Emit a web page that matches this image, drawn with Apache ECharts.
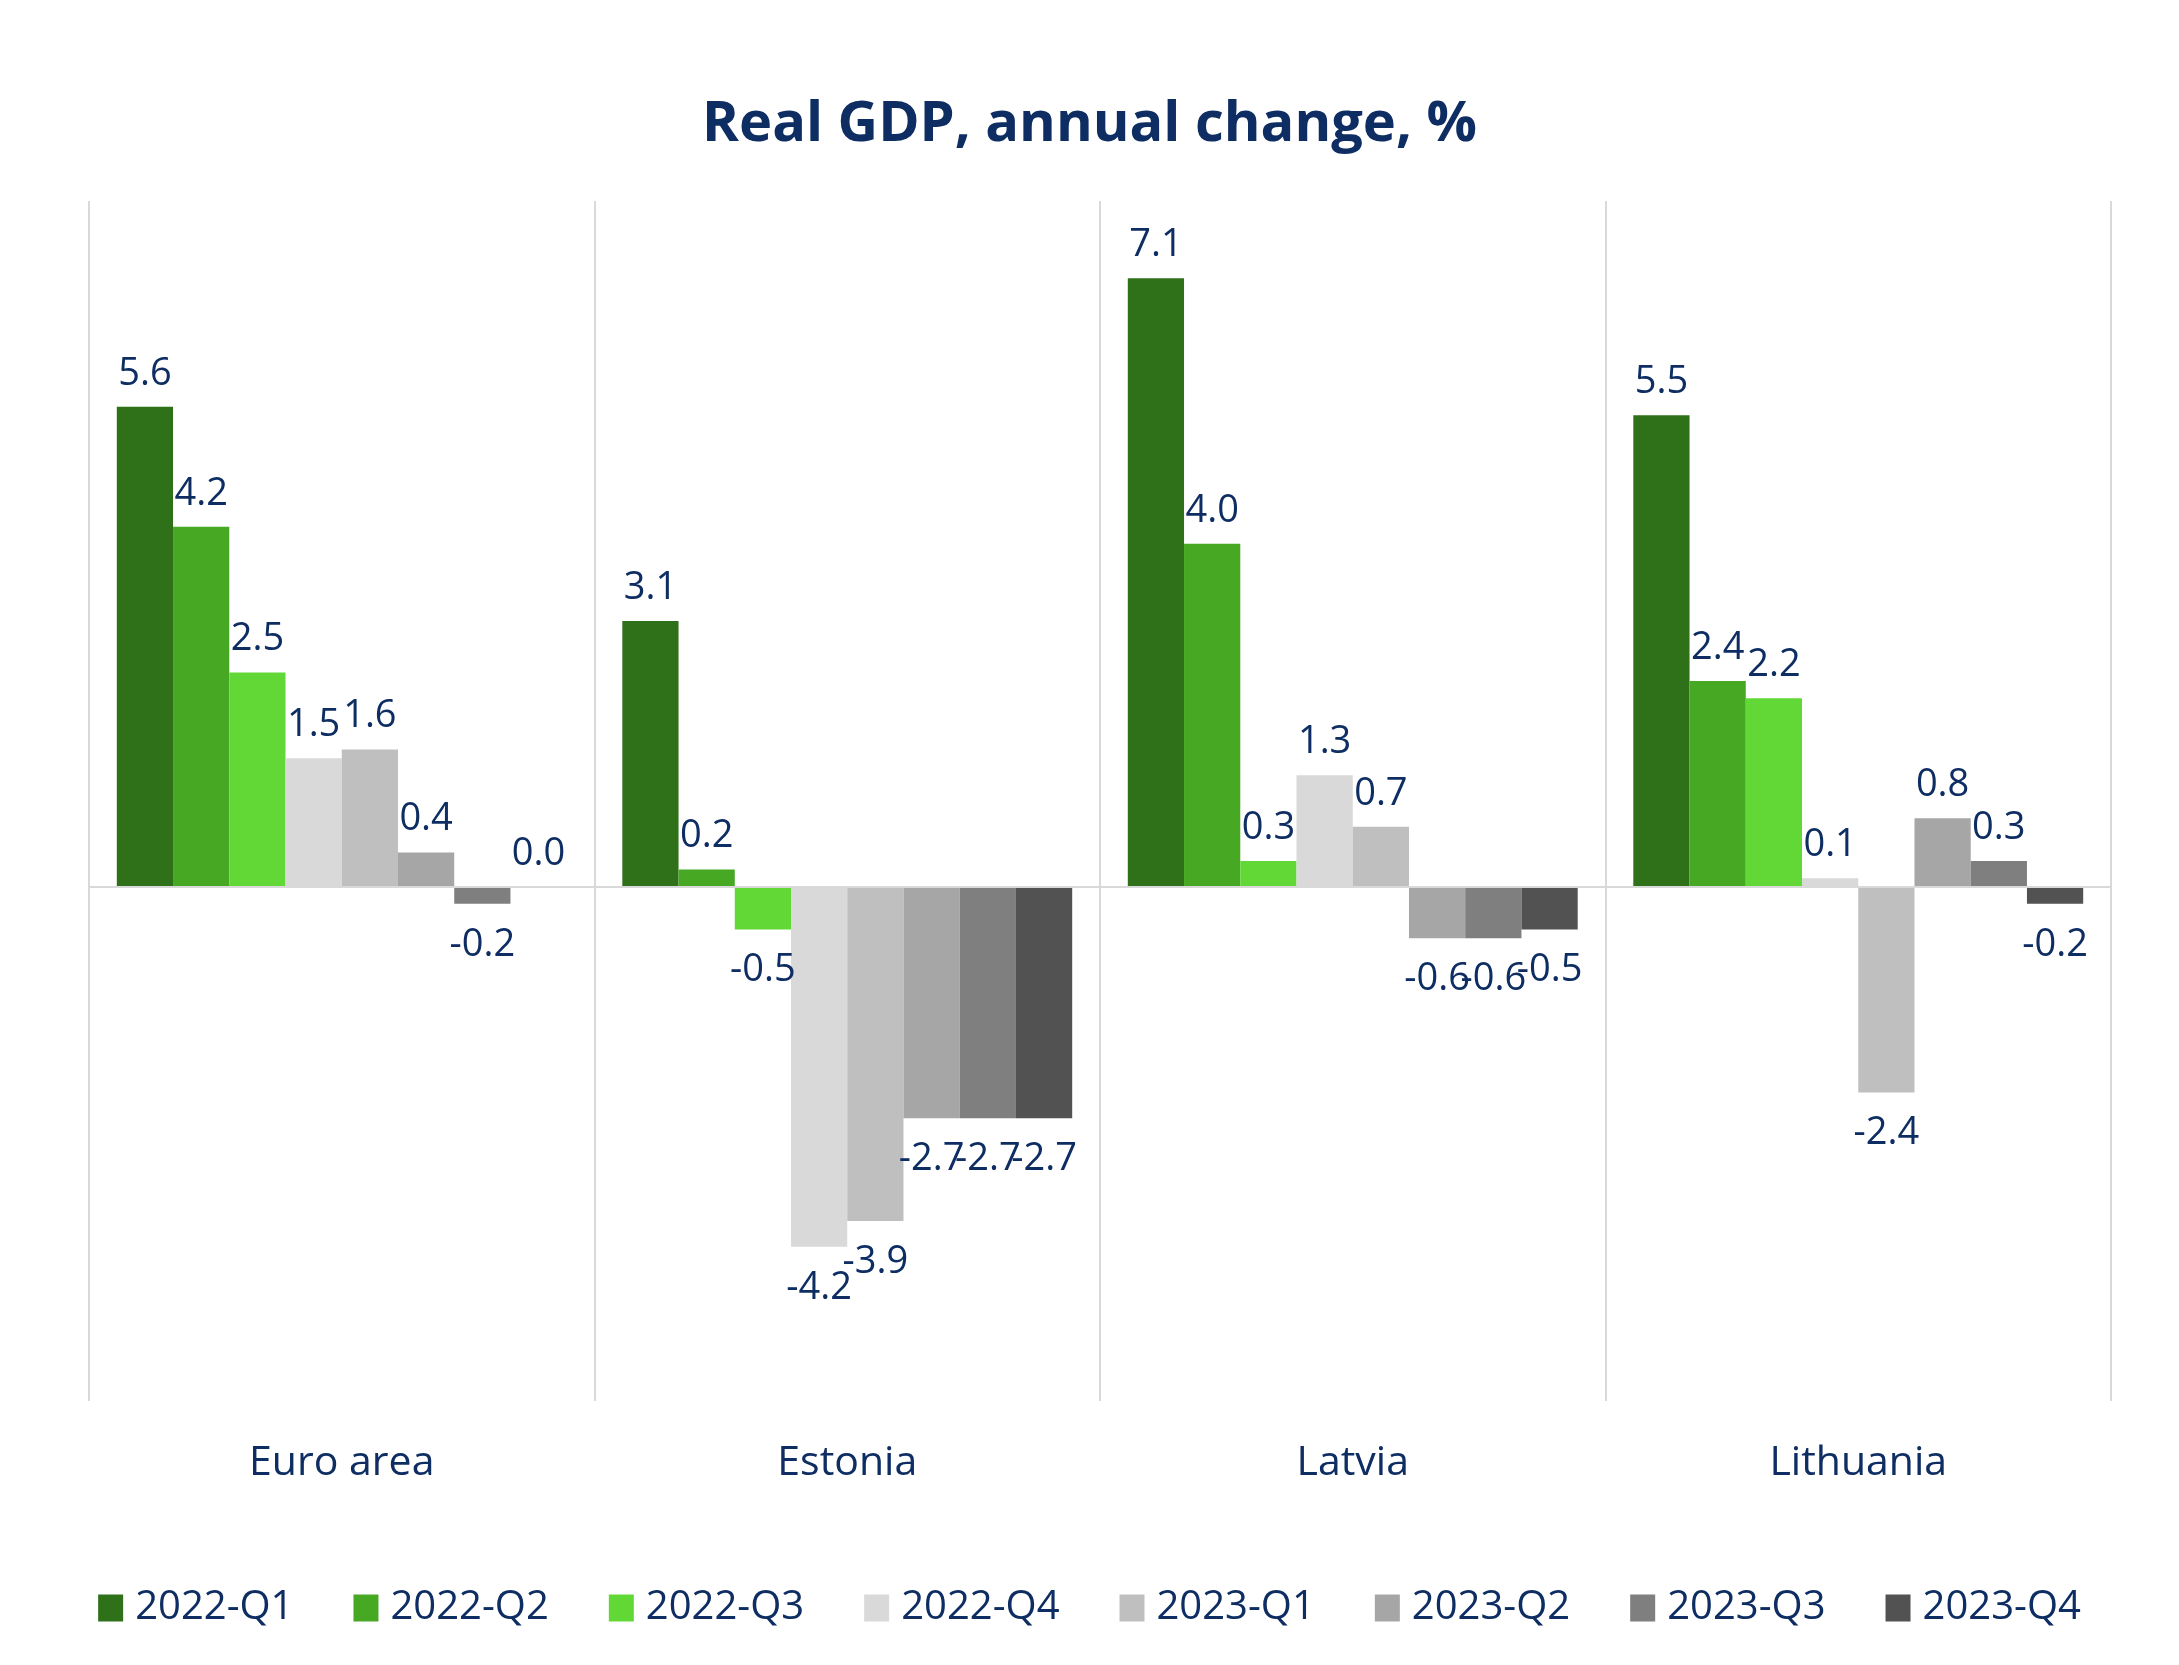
<!DOCTYPE html>
<html>
<head>
<meta charset="utf-8">
<title>Real GDP, annual change, %</title>
<script src="https://cdn.jsdelivr.net/npm/echarts@6/dist/echarts.min.js"></script>
<style>
  html, body { margin: 0; padding: 0; background: #fff; }
  #chart { width: 2179px; height: 1665px; }
</style>
</head>
<body>
<div id="chart"></div>
<script>
// 数据
const countries = ['Euro area', 'Estonia', 'Latvia', 'Lithuania'];
const quarters = ['2022-Q1', '2022-Q2', '2022-Q3', '2022-Q4', '2023-Q1', '2023-Q2', '2023-Q3', '2023-Q4'];
const q2022_1 = [5.6, 3.1, 7.1, 5.5];
const q2022_2 = [4.2, 0.2, 4.0, 2.4];
const q2022_3 = [2.5, -0.5, 0.3, 2.2];
const q2022_4 = [1.5, -4.2, 1.3, 0.1];
const q2023_1 = [1.6, -3.9, 0.7, -2.4];
const q2023_2 = [0.4, -2.7, -0.6, 0.8];
const q2023_3 = [-0.2, -2.7, -0.6, 0.3];
const q2023_4 = [0.0, -2.7, -0.5, -0.2];
const seriesValues = [q2022_1, q2022_2, q2022_3, q2022_4, q2023_1, q2023_2, q2023_3, q2023_4];

const colorArr = ['#2E7118', '#46A823', '#62D836', '#D9D9D9', '#BFBFBF', '#A6A6A6', '#7F7F7F', '#525252'];
const textColor = '#0E2D62';
const fontFamily = '"Open Sans", "Noto Sans", sans-serif';

const myChart = echarts.init(document.getElementById('chart'));

const seriesArr = quarters.map((name, index) => {
  const s = {
    name: name,
    type: 'bar',
    barGap: 0,
    barCategoryGap: '11%',
    itemStyle: { color: colorArr[index] },
    label: {
      show: true,
      color: textColor,
      fontFamily: fontFamily,
      fontSize: 38,
      formatter: p => p.value.toFixed(1)
    },
    // 负值的标签放在柱子下方
    data: seriesValues[index].map(v => ({
      value: v,
      label: v < 0 ? { position: 'bottom', distance: 22 } : { position: 'top', distance: 14 }
    }))
  };
  if (index === 0) {
    // 零线
    s.markLine = {
      silent: true,
      symbol: 'none',
      label: { show: false },
      lineStyle: { color: '#D9D9D9', width: 2, type: 'solid' },
      data: [{ yAxis: 0 }]
    };
  }
  return s;
});

const option = {
  backgroundColor: '#fff',
  animation: false,
  title: {
    text: 'Real GDP, annual change, %',
    left: 'center',
    top: 92,
    textStyle: {
      color: textColor,
      fontFamily: fontFamily,
      fontWeight: 'bold',
      fontSize: 56
    }
  },
  legend: {
    data: quarters,
    left: 'center',
    top: 1583,
    itemWidth: 25,
    itemHeight: 27,
    itemGap: 60,
    icon: 'rect',
    textStyle: {
      color: textColor,
      fontFamily: fontFamily,
      fontSize: 40,
      padding: [0, 0, 0, 7]
    }
  },
  grid: {
    left: 89,
    right: 68,
    top: 201,
    bottom: 264
  },
  xAxis: {
    type: 'category',
    data: countries,
    axisLine: { show: false, onZero: false },
    axisTick: { show: false },
    axisLabel: {
      color: textColor,
      fontFamily: fontFamily,
      fontSize: 41,
      margin: 42
    },
    splitLine: {
      show: true,
      lineStyle: { color: '#D9D9D9', width: 2 }
    }
  },
  yAxis: {
    type: 'value',
    min: -6,
    max: 8,
    show: false,
    splitLine: { show: false }
  },
  series: seriesArr
};

myChart.setOption(option);
</script>
</body>
</html>
